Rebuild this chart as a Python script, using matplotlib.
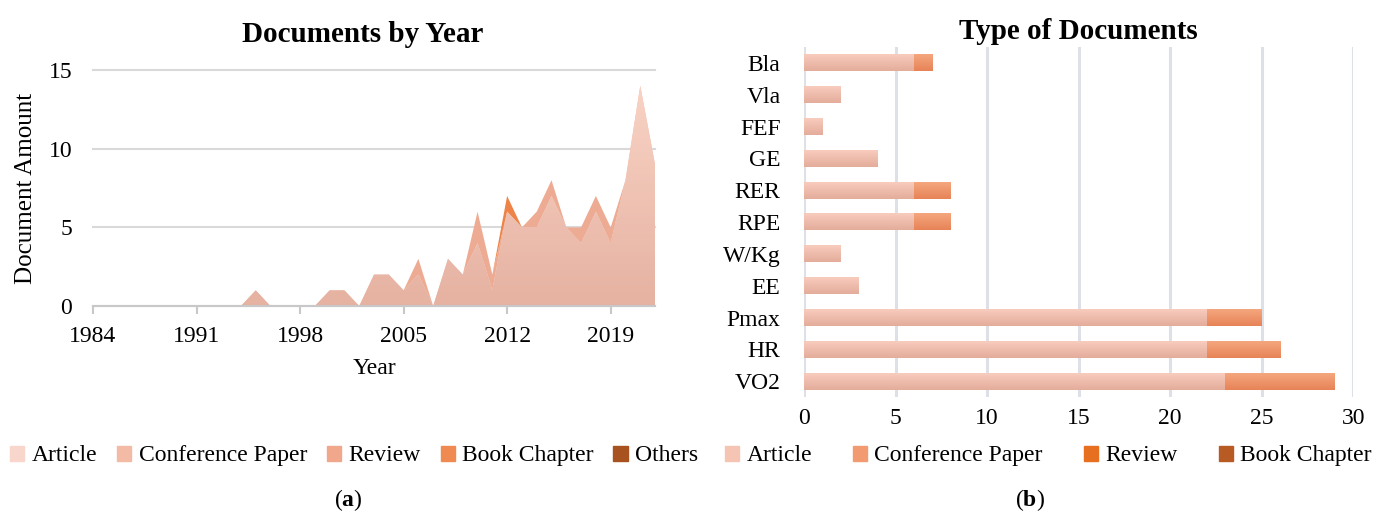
import matplotlib
matplotlib.use("Agg")
import matplotlib.pyplot as plt
import numpy as np
from matplotlib.patches import Patch
from matplotlib.colors import LinearSegmentedColormap

plt.rcParams['font.family'] = ['Liberation Serif', 'DejaVu Serif']
plt.rcParams['mathtext.fontset'] = 'custom'
plt.rcParams['mathtext.bf'] = 'Liberation Serif:bold'
plt.rcParams['mathtext.rm'] = 'Liberation Serif'

# --- (a) documents by year -------------------------------------------------
years = list(range(1984, 2023))
article = [0] * 11 + [1, 0, 0, 0, 0, 1, 1, 0, 2, 2, 1, 2, 0, 3, 2, 4, 1, 6, 5,
                     5, 7, 5, 4, 6, 4, 8, 14, 9]
conference = [0] * 11 + [0, 0, 0, 0, 0, 0, 0, 0, 0, 0, 0, 1, 0, 0, 0, 2, 1, 0, 0,
                        1, 1, 0, 1, 1, 1, 0, 0, 0]
review = [0] * len(years)
book_chapter = [0] * 28 + [1] + [0] * 10
others = [0] * len(years)

area_labels = ["Article", "Conference Paper", "Review", "Book Chapter", "Others"]
area_colors = ["#efc1b0", "#eeab93", "#f0a284", "#ee8347", "#a5521f"]
legend_a_colors = ["#f8d6cb", "#f3baa6", "#f1a78b", "#ee8a52", "#a8521f"]

# --- (b) type of documents -------------------------------------------------
types = ["VO2", "HR", "Pmax", "EE", "W/Kg", "RPE", "RER", "GE", "FEF", "Vla", "Bla"]
type_article = [23, 22, 22, 3, 2, 6, 6, 4, 1, 2, 6]
type_conference = [6, 4, 3, 0, 0, 2, 2, 0, 0, 0, 1]
type_review = [0] * 11
type_book = [0] * 11

bar_labels = ["Article", "Conference Paper", "Review", "Book Chapter"]
bar_colors = ["#f0bfad", "#ef9a6e", "#e6701f", "#b85a24"]
bar_grad = [("#f8ccbd", "#e4ac9b"), ("#f5a67e", "#e78457"),
            ("#ec7a2c", "#d9661a"), ("#c26430", "#a9521c")]
legend_b_colors = ["#f5c4b3", "#f29a70", "#e6701f", "#b85a24"]


def grad_cmap(top, bottom):
    return LinearSegmentedColormap.from_list("g", [bottom, top])


grad = np.linspace(0, 1, 64).reshape(-1, 1)

fig = plt.figure(figsize=(13.84, 5.17), dpi=100)

# left chart
ax1 = fig.add_axes([0.0672, 0.408, 0.4061, 0.4565])
polys = ax1.stackplot(years, article, conference, review, book_chapter, others,
                      colors=area_colors, linewidth=0)
# gradient fill of the article layer
im = ax1.imshow(grad, extent=[1984, 2022, 0, 14.5], origin="lower", aspect="auto",
                cmap=grad_cmap("#f9d4c6", "#e6b2a2"), zorder=2.5)
im.set_clip_path(polys[0].get_paths()[0], transform=ax1.transData)
ax1.set_xlim(1984, 2022)
ax1.set_ylim(0, 15)
ax1.set_yticks([0, 5, 10, 15])
ax1.set_xticks(range(1984, 2022, 7))
ax1.yaxis.grid(True, color="#d9d9d9", linewidth=1.5, clip_on=False)
ax1.set_axisbelow(True)
for s in ["top", "right", "left"]:
    ax1.spines[s].set_visible(False)
ax1.spines["bottom"].set_color("#c8c8c8")
ax1.spines["bottom"].set_linewidth(1.5)
ax1.spines["bottom"].set_zorder(3)
ax1.tick_params(axis="x", colors="#c8c8c8", length=6, width=1.5, labelcolor="black",
                labelsize=17, pad=8)
ax1.tick_params(axis="y", length=0, labelsize=17, pad=15)
ax1.set_title("Documents by Year", fontsize=21, fontweight="bold", pad=20, x=0.479)
ax1.set_ylabel("Document Amount", fontsize=18)
ax1.yaxis.set_label_coords(-0.10, 0.5)
ax1.set_xlabel("Year", fontsize=17, labelpad=8)

handles_a = [Patch(color=c, label=l) for c, l in zip(legend_a_colors, area_labels)]
fig.legend(handles=handles_a, loc="center", bbox_to_anchor=(0.2558, 0.118), ncol=5,
           frameon=False, fontsize=17, handlelength=0.6, handleheight=0.6,
           handletextpad=0.3, columnspacing=0.85)
fig.text(0.2515, 0.033, r"($\mathbf{a}$)", ha="center", va="center", fontsize=17)

# right chart
ax2 = fig.add_axes([0.581, 0.232, 0.3967, 0.677])
y = np.arange(len(types))
left = np.zeros(len(types))
for vals, c, l, g in zip([type_article, type_conference, type_review, type_book],
                         bar_colors, bar_labels, bar_grad):
    bars = ax2.barh(y, vals, left=left, height=0.53, color=c, label=l, linewidth=0)
    for b in bars:
        if b.get_width() <= 0:
            continue
        x0, y0 = b.get_x(), b.get_y()
        ax2.imshow(grad[::-1], extent=[x0, x0 + b.get_width(), y0, y0 + b.get_height()],
                   origin="upper", aspect="auto", cmap=grad_cmap(g[0], g[1]), zorder=2.5)
    left = left + np.array(vals)
ax2.set_xlim(0, 30)
ax2.set_ylim(-0.5, len(types) - 0.5)
ax2.set_yticks(y)
ax2.set_yticklabels(types)
ax2.set_xticks(range(0, 31, 5))
ax2.xaxis.grid(True, color="#dde1e7", linewidth=2.2)
ax2.set_axisbelow(True)
for s in ax2.spines.values():
    s.set_visible(False)
ax2.tick_params(length=0, labelsize=17)
ax2.tick_params(axis="y", pad=17)
ax2.tick_params(axis="x", pad=8)
ax2.set_title("Type of Documents", fontsize=21, fontweight="bold", pad=6)

handles_b = [Patch(color=c, label=l) for c, l in zip(legend_b_colors, bar_labels)]
fig.legend(handles=handles_b, loc="center", bbox_to_anchor=(0.7575, 0.118), ncol=4,
           frameon=False, fontsize=17, handlelength=0.6, handleheight=0.6,
           handletextpad=0.3, columnspacing=1.75)
fig.text(0.7445, 0.033, r"($\mathbf{b}$)", ha="center", va="center", fontsize=17)

fig.savefig("out.png", dpi=100)
